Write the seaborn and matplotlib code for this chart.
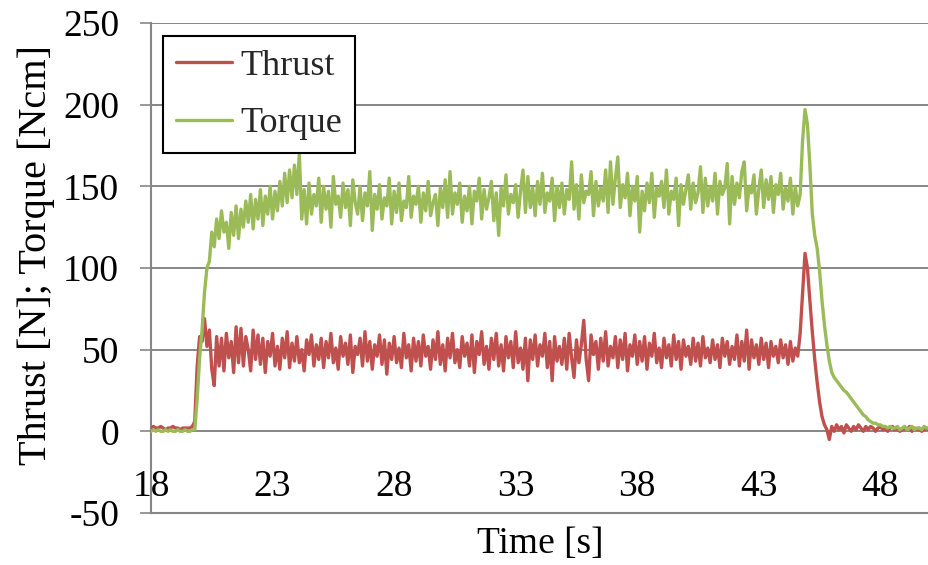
import numpy as np
import pandas as pd
import matplotlib
matplotlib.use("Agg")
import matplotlib.pyplot as plt
import seaborn as sns

# Sampling: one reading every 0.1 s starting at t = 18.0 s
t_start = 18.0
t_step = 0.1

# Thrust [N], one row per second (18 s ... 50 s)
thrust = [
    2, 3, 2, 2, 3, 2, 1, 2, 2, 3,
    2, 2, 1, 2, 2, 2, 2, 3, 6, 40,
    58, 55, 69, 52, 62, 38, 28, 58, 40, 57,
    37, 60, 45, 55, 36, 64, 42, 63, 40, 58,
    50, 37, 62, 44, 59, 41, 57, 36, 55, 46,
    60, 40, 52, 38, 57, 45, 61, 39, 54, 43,
    58, 42, 50, 37, 56, 47, 59, 40, 53, 44,
    57, 39, 55, 45, 60, 42, 51, 38, 58, 46,
    54, 41, 59, 36, 52, 47, 57, 40, 61, 43,
    55, 38, 53, 46, 59, 41, 56, 35, 54, 44,
    58, 42, 51, 39, 60, 45, 53, 37, 57, 43,
    55, 40, 59, 46, 52, 38, 56, 44, 61, 41,
    53, 37, 57, 45, 60, 42, 50, 39, 58, 46,
    54, 40, 59, 36, 55, 47, 61, 41, 52, 38,
    57, 44, 60, 40, 53, 37, 58, 45, 55, 39,
    61, 42, 51, 38, 57, 31, 56, 44, 59, 40,
    53, 46, 60, 39, 55, 31, 58, 43, 52, 41,
    57, 38, 60, 45, 33, 56, 42, 53, 68, 44,
    31, 59, 47, 55, 38, 57, 43, 61, 40, 52,
    45, 58, 39, 56, 44, 60, 37, 53, 46, 59,
    41, 55, 43, 58, 38, 54, 46, 60, 42, 51,
    39, 57, 45, 53, 40, 59, 44, 55, 38, 56,
    46, 52, 41, 57, 43, 54, 40, 58, 45, 51,
    42, 56, 44, 53, 39, 57, 46, 55, 41, 52,
    44, 59, 40, 55, 43, 62, 38, 56, 45, 53,
    41, 57, 44, 54, 39, 55, 46, 52, 42, 56,
    45, 53, 41, 55, 43, 51, 46, 60, 85, 109,
    100, 80, 61, 44, 30, 18, 9, 4, 1, -5,
    3, 0, 4, 1, 3, -1, 4, 2, 0, 3,
    1, 4, 2, 0, 3, 1, 3, 2, 0, 2,
    3, 1, 2, 0, 2, 3, 1, 2, 0, 1,
    2, 1, 3, 0, 2, 1, 2, 0, 1, 2,
    1,
]

# Torque [Ncm], same sampling
torque = [
    0, 1, 0, 1, 0, 0, 1, 0, 1, 0,
    0, 1, 0, 0, 1, 0, 0, 1, 1, 20,
    45, 62, 85, 100, 104, 122, 113, 130, 118, 135,
    122, 128, 112, 134, 120, 138, 118, 136, 125, 141,
    128, 145, 124, 142, 130, 148, 126, 144, 133, 150,
    130, 147, 135, 153, 138, 158, 140, 160, 143, 163,
    145, 170, 130, 148, 127, 152, 133, 145, 138, 155,
    128, 150, 136, 147, 125, 156, 139, 144, 131, 152,
    137, 148, 126, 154, 140, 133, 150, 129, 146, 138,
    159, 123, 145, 136, 151, 130, 143, 138, 155, 127,
    147, 134, 152, 129, 141, 137, 156, 131, 144, 139,
    150, 128, 146, 135, 153, 132, 140, 145, 126, 149,
    137, 154, 131, 159, 133, 146, 139, 152, 128, 144,
    135, 150, 127, 147, 141, 155, 130, 148, 136, 143,
    153, 129, 146, 120, 149, 138, 157, 133, 145, 140,
    151, 131, 147, 160, 134, 156, 137, 149, 132, 153,
    139, 158, 134, 146, 141, 155, 129, 150, 137, 152,
    133, 148, 142, 165, 136, 151, 130, 157, 140, 147,
    145, 159, 132, 153, 138, 149, 141, 160, 134, 165,
    139, 155, 168, 137, 151, 143, 158, 132, 150, 141,
    156, 122, 147, 135, 152, 140, 158, 131, 149, 144,
    153, 137, 160, 133, 147, 142, 155, 126, 151, 139,
    148, 157, 136, 152, 140, 146, 162, 134, 155, 138,
    150, 141, 158, 133, 153, 145, 149, 164, 127, 156,
    139, 152, 143, 159, 165, 135, 150, 146, 157, 133,
    148, 160, 137, 154, 142, 156, 134, 151, 145, 158,
    136, 149, 141, 155, 133, 150, 138, 145, 178, 197,
    188, 163, 133, 120, 112, 98, 80, 65, 53, 43,
    36, 33, 31, 29, 27, 25, 24, 22, 20, 18,
    16, 14, 12, 10, 9, 7, 6, 5, 5, 4,
    4, 3, 3, 2, 3, 2, 2, 3, 1, 2,
    3, 1, 2, 3, 1, 2, 2, 1, 3, 2,
    2,
]

series_names = ["Thrust", "Torque"]
series_colors = {"Thrust": "#C0504D", "Torque": "#9BBB59"}
x_ticks = [18, 23, 28, 33, 38, 43, 48]
y_ticks = [-50, 0, 50, 100, 150, 200, 250]

frames = []
for name, values in zip(series_names, [thrust, torque]):
    time = np.round(t_start + t_step * np.arange(len(values)), 2)
    frames.append(pd.DataFrame({"Time": time, "Value": values, "Series": name}))
df = pd.concat(frames, ignore_index=True)

sns.set_theme(style="white")
plt.rcParams["font.family"] = ["Liberation Serif", "DejaVu Serif"]

grid_gray = "#868686"
fs = 27

fig = plt.figure(figsize=(9.29, 5.65), dpi=100)
ax = fig.add_axes([151 / 929, 1 - 513 / 565, 1 - 151 / 929, (513 - 23) / 565])

sns.lineplot(data=df, x="Time", y="Value", hue="Series", hue_order=series_names,
             palette=series_colors, linewidth=2.4, estimator=None, sort=False,
             ax=ax, zorder=3)

ax.set_xlim(18, 50)
ax.set_ylim(-50, 250)
ax.set_xticks(x_ticks)
ax.set_xticklabels([str(v) for v in x_ticks])
ax.set_yticks(y_ticks)
ax.set_yticklabels([str(v) for v in y_ticks])

ax.yaxis.grid(True, color=grid_gray, linewidth=1.4)
ax.xaxis.grid(False)
ax.set_axisbelow(True)

for side in ["top", "right"]:
    ax.spines[side].set_visible(False)
for side in ["left", "bottom"]:
    ax.spines[side].set_color(grid_gray)
    ax.spines[side].set_linewidth(1.5)

ax.tick_params(axis="y", which="both", left=True, direction="out", length=8,
               width=1.2, color=grid_gray, pad=15, labelsize=fs, labelcolor="black")
ax.tick_params(axis="x", which="both", bottom=False, length=0, pad=-31,
               labelsize=fs, labelcolor="black")

ax.set_xlabel("Time [s]", fontsize=fs, color="black", labelpad=10)
ax.set_ylabel("Thrust [N]; Torque [Ncm]", fontsize=29, color="black", labelpad=6)
ax.yaxis.label.set_y(0.527)

handles, labels = ax.get_legend_handles_labels()
leg = ax.legend(handles, labels, loc="upper left", bbox_to_anchor=(0.0154, 0.973),
                borderaxespad=0, fontsize=26, frameon=True, fancybox=False,
                edgecolor="black", framealpha=1, handlelength=1.55,
                handletextpad=0.22, labelspacing=0.68, borderpad=0.36)
leg.get_frame().set_linewidth(1.5)
for line in leg.get_lines():
    line.set_linewidth(2.4)

fig.savefig("out.png", dpi=100)
